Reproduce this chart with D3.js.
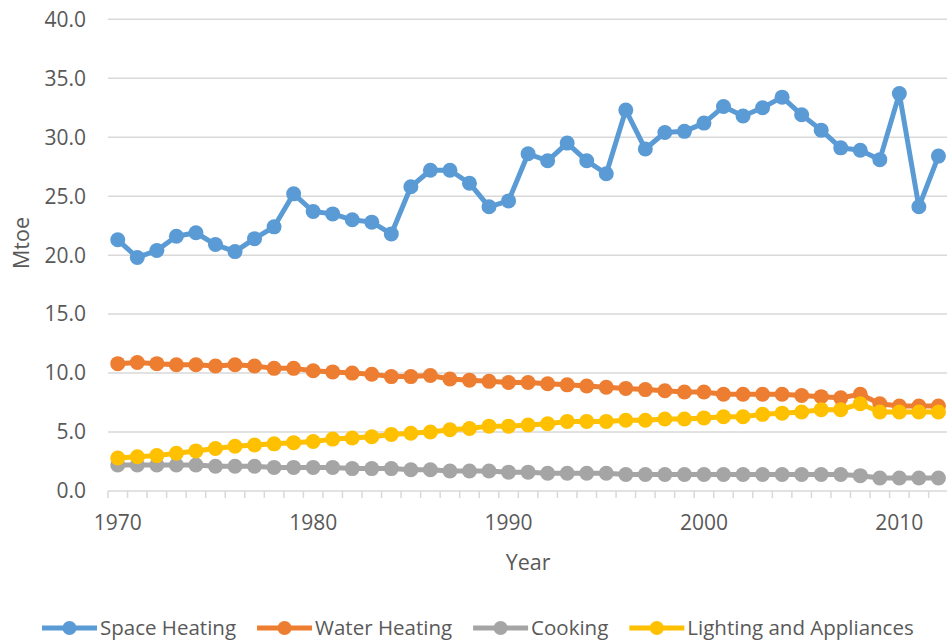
<!DOCTYPE html>
<meta charset="utf-8">
<style>
body { margin: 0; background: #fff; }
text { font-family: "Open Sans", sans-serif; fill: #595959; }
.grid line { stroke: #d9d9d9; stroke-width: 1.5px; }
</style>
<body>
<script src="https://d3js.org/d3.v7.min.js"></script>
<script>

var width = 947, height = 643;

// data
var years = d3.range(1970, 2013);
var spaceHeating = [21.3, 19.8, 20.4, 21.6, 21.9, 20.9, 20.3, 21.4, 22.4, 25.2,
  23.7, 23.5, 23.0, 22.8, 21.8, 25.8, 27.2, 27.2, 26.1, 24.1,
  24.6, 28.6, 28.0, 29.5, 28.0, 26.9, 32.3, 29.0, 30.4, 30.5,
  31.2, 32.6, 31.8, 32.5, 33.4, 31.9, 30.6, 29.1, 28.9, 28.1,
  33.7, 24.1, 28.4];
var waterHeating = [10.8, 10.9, 10.8, 10.7, 10.7, 10.6, 10.7, 10.6, 10.4, 10.4,
  10.2, 10.1, 10.0, 9.9, 9.7, 9.7, 9.8, 9.5, 9.4, 9.3,
  9.2, 9.2, 9.1, 9.0, 8.9, 8.8, 8.7, 8.6, 8.5, 8.4,
  8.4, 8.2, 8.2, 8.2, 8.2, 8.1, 8.0, 7.9, 8.2, 7.4,
  7.2, 7.2, 7.2];
var cooking = [2.2, 2.2, 2.2, 2.2, 2.2, 2.1, 2.1, 2.1, 2.0, 2.0,
  2.0, 2.0, 1.9, 1.9, 1.9, 1.8, 1.8, 1.7, 1.7, 1.7,
  1.6, 1.6, 1.5, 1.5, 1.5, 1.5, 1.4, 1.4, 1.4, 1.4,
  1.4, 1.4, 1.4, 1.4, 1.4, 1.4, 1.4, 1.4, 1.3, 1.1,
  1.1, 1.1, 1.1];
var lighting = [2.8, 2.9, 3.0, 3.2, 3.4, 3.6, 3.8, 3.9, 4.0, 4.1,
  4.2, 4.4, 4.5, 4.6, 4.8, 4.9, 5.0, 5.2, 5.3, 5.5,
  5.5, 5.6, 5.7, 5.9, 5.9, 5.9, 6.0, 6.0, 6.1, 6.1,
  6.2, 6.3, 6.3, 6.5, 6.6, 6.7, 6.9, 6.9, 7.4, 6.7,
  6.7, 6.7, 6.7];
var seriesNames = ["Space Heating", "Water Heating", "Cooking", "Lighting and Appliances"];
var colors = ["#5b9bd5", "#ed7d31", "#a5a5a5", "#ffc000"];
var yTicks = [0, 5, 10, 15, 20, 25, 30, 35, 40];
var xLabels = [1970, 1980, 1990, 2000, 2010];

var series = [spaceHeating, waterHeating, cooking, lighting].map(function(v, i) {
  return { name: seriesNames[i], color: colors[i],
    values: years.map(function(y, j) { return { year: y, value: v[j] }; }) };
});

var plot = { left: 108, right: 948.2, top: 19.3, bottom: 491 };

var svg = d3.select("body").append("svg")
    .attr("width", width)
    .attr("height", height);

var x = d3.scaleBand()
  .domain(years)
  .range([plot.left, plot.right]);

var y = d3.scaleLinear()
  .domain([0, 40])
  .range([plot.bottom, plot.top]);

function cx(d) { return x(d.year) + x.bandwidth() / 2; }

// gridlines
svg.append("g").attr("class", "grid")
  .selectAll("line")
  .data(yTicks.filter(function(t) { return t > 0; }))
  .enter().append("line")
    .attr("x1", plot.left).attr("x2", plot.right)
    .attr("y1", function(d) { return y(d); })
    .attr("y2", function(d) { return y(d); });

// y labels
svg.append("g")
  .selectAll("text")
  .data(yTicks)
  .enter().append("text")
    .attr("x", 86)
    .attr("y", function(d) { return y(d); })
    .attr("dy", "0.35em")
    .attr("text-anchor", "end")
    .style("font-size", "21px")
    .text(function(d) { return d3.format(".1f")(d); });

// x axis line and category ticks
svg.append("line")
  .attr("x1", plot.left).attr("x2", plot.right)
  .attr("y1", plot.bottom).attr("y2", plot.bottom)
  .attr("stroke", "#d9d9d9").attr("stroke-width", 1.5);

svg.append("g")
  .selectAll("line")
  .data(years.concat([2013]))
  .enter().append("line")
    .attr("x1", function(d) { return d === 2013 ? plot.right : x(d); })
    .attr("x2", function(d) { return d === 2013 ? plot.right : x(d); })
    .attr("y1", plot.bottom).attr("y2", plot.bottom + 7)
    .attr("stroke", "#d9d9d9").attr("stroke-width", 1.5);

svg.append("g")
  .selectAll("text")
  .data(xLabels)
  .enter().append("text")
    .attr("x", function(d) { return x(d) + x.bandwidth() / 2; })
    .attr("y", 523)
    .attr("dy", "0.35em")
    .attr("text-anchor", "middle")
    .style("font-size", "21px")
    .text(function(d) { return d; });

// axis titles
svg.append("text")
  .attr("x", (plot.left + plot.right) / 2)
  .attr("y", 562)
  .attr("dy", "0.35em")
  .attr("text-anchor", "middle")
  .style("font-size", "21.5px")
  .text("Year");

svg.append("text")
  .attr("transform", "translate(21,243) rotate(-90)")
  .attr("dy", "0.35em")
  .attr("text-anchor", "middle")
  .style("font-size", "21.5px")
  .text("Mtoe");

// lines and markers
var line = d3.line()
  .x(cx)
  .y(function(d) { return y(d.value); });

var g = svg.selectAll(".series")
  .data(series)
  .enter().append("g")
  .attr("class", "series");

g.append("path")
  .attr("d", function(d) { return line(d.values); })
  .attr("fill", "none")
  .attr("stroke", function(d) { return d.color; })
  .attr("stroke-width", 5)
  .attr("stroke-linejoin", "round");

g.selectAll("circle")
  .data(function(d) { return d.values.map(function(v) { v.color = d.color; return v; }); })
  .enter().append("circle")
    .attr("cx", cx)
    .attr("cy", function(d) { return y(d.value); })
    .attr("r", 7.5)
    .attr("fill", function(d) { return d.color; });

// legend
var legend = svg.append("g");
var lx = 42, ly = 628;
series.forEach(function(s) {
  legend.append("line")
    .attr("x1", lx).attr("x2", lx + 55)
    .attr("y1", ly).attr("y2", ly)
    .attr("stroke", s.color).attr("stroke-width", 5);
  legend.append("circle")
    .attr("cx", lx + 27.5).attr("cy", ly).attr("r", 7)
    .attr("fill", s.color);
  var t = legend.append("text")
    .attr("x", lx + 58).attr("y", ly)
    .attr("dy", "0.35em")
    .style("font-size", "20.5px")
    .text(s.name);
  lx += 58 + t.node().getComputedTextLength() + 21;
});

</script>
</body>
